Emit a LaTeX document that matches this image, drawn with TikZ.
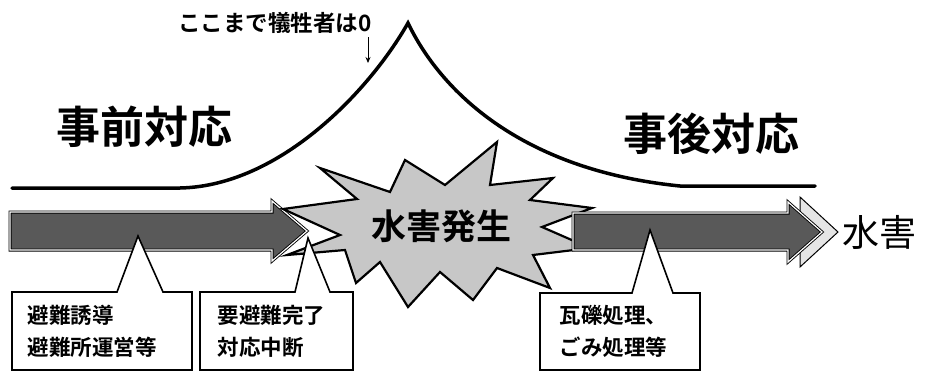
\documentclass[tikz,border=0pt]{standalone}
\usepackage{fontspec}
\newfontfamily\jpfont{Noto Sans CJK JP}[BoldFont={Noto Sans CJK JP Bold}]
\usetikzlibrary{arrows.meta,positioning}

\begin{document}
\begin{tikzpicture}[x=1pt,y=-1pt,>=Stealth,font=\jpfont,
    bar/.style={draw=black,line width=0.9pt,double=white,double distance=1.2pt},
    callout/.style={draw=black,line width=1.6pt,fill=white,line join=miter},
    boxtext/.style={anchor=west,align=left,font=\jpfont\bfseries\fontsize{21.5}{32}\selectfont}]

    \useasboundingbox (0,0) rectangle (925,372);

    % casualty curve
    \draw [line width=3.5pt,line cap=round] (12,188) -- (180,188)
        .. controls (280,186) and (370,90) .. (408,23)
        .. controls (440,90) and (520,170) .. (680,186) -- (815,186);

    % note over the peak
    \node [font=\jpfont\bfseries\fontsize{22.5}{22.5}\selectfont] (zero) at (275,23) {ここまで犠牲者は0};
    \coordinate (peakmark) at (368,63);
    \draw [->,thick,>={Stealth[length=6pt,width=5pt]}] (zero.south -| peakmark) -- (peakmark);

    % phase labels
    \node [font=\jpfont\bfseries\fontsize{44}{44}\selectfont] (before) at (144,127) {事前対応};
    \node [font=\jpfont\bfseries\fontsize{44}{44}\selectfont] (after) at (711,134) {事後対応};

    % arrow before the flood
    \draw [bar,fill=black!65] (10,212) -- (272,212) -- (272,201) -- (307,231)
        -- (272,261) -- (272,250) -- (10,250) -- cycle;

    % flood burst
    \draw [line width=2.2pt,fill=black!22,line join=miter]
        (283,209) -- (357,199) -- (320,168) -- (390,192) -- (405,160) -- (445,185)
        -- (497,142) -- (490,185) -- (553,178) -- (530,200) -- (592,208) -- (542,227)
        -- (590,248) -- (533,255) -- (550,288) -- (497,268) -- (473,300) -- (440,272)
        -- (408,307) -- (380,262) -- (356,283) -- (345,250) -- (287,255) -- (340,235) -- cycle;
    \node [font=\jpfont\bfseries\fontsize{35}{35}\selectfont] (flood) at (441,226) {水害発生};

    % arrow after the flood
    \draw [line width=1pt,fill=black!10] (800,197) -- (838,232) -- (800,267) -- cycle;
    \draw [bar,fill=black!65] (573,213) -- (788,213) -- (788,202) -- (822,232)
        -- (788,262) -- (788,250) -- (573,250) -- cycle;
    \node [font=\jpfont\fontsize{37}{37}\selectfont,anchor=west] (axis) at (839,232) {水害};

    % callouts
    \draw [callout] (12,292) -- (117,292) -- (138,236) -- (163,292) -- (192,292)
        -- (192,370) -- (12,370) -- cycle;
    \node [boxtext] (evac) at (24,331) {避難誘導\\避難所運営等};

    \draw [callout] (200,292) -- (295,292) -- (308,238) -- (330,292) -- (353,292)
        -- (353,370) -- (200,370) -- cycle;
    \node [boxtext] (halt) at (214,331) {要避難完了\\対応中断};

    \draw [callout] (540,293) -- (632,293) -- (650,230) -- (673,293) -- (700,293)
        -- (700,370) -- (540,370) -- cycle;
    \node [boxtext] (debris) at (556,331) {瓦礫処理、\\ごみ処理等};

\end{tikzpicture}
\end{document}
